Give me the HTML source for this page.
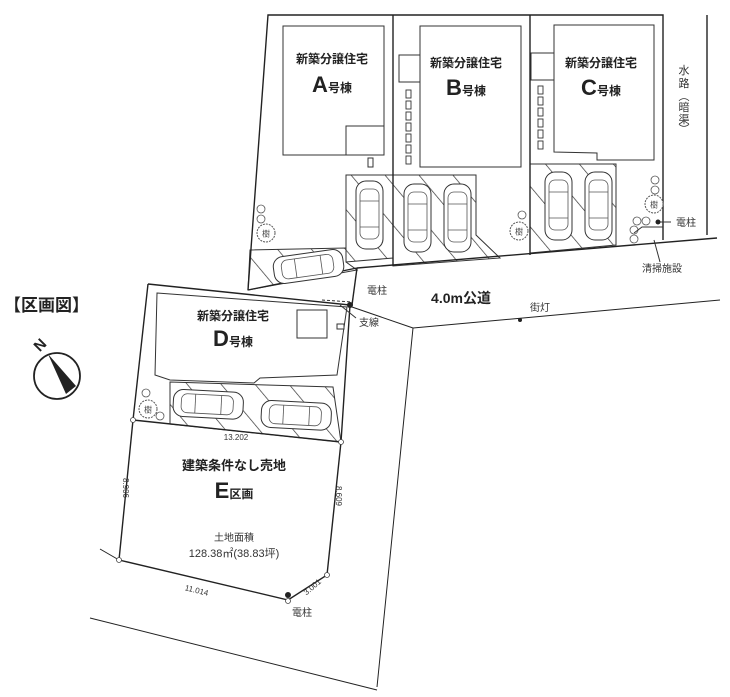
<!DOCTYPE html>
<html><head><meta charset="utf-8"><style>
html,body{margin:0;padding:0;background:#fff;}
svg{display:block;font-family:"Liberation Sans","Noto Sans CJK JP",sans-serif;}
</style></head><body>
<svg width="730" height="697" viewBox="0 0 730 697" xmlns="http://www.w3.org/2000/svg">
<defs>
<pattern id="h" width="26" height="26" patternUnits="userSpaceOnUse" patternTransform="rotate(-40)">
<line x1="0" y1="0" x2="0" y2="26" stroke="#333" stroke-width="1.4"/>
</pattern>
<g id="carv">
<rect x="0" y="0" width="27" height="68" rx="10" fill="#fff" stroke="#333" stroke-width="1"/>
<rect x="4" y="8" width="19" height="50" rx="6" fill="none" stroke="#555" stroke-width="0.8"/>
<line x1="4" y1="20" x2="23" y2="20" stroke="#555" stroke-width="0.8"/>
<line x1="4" y1="46" x2="23" y2="46" stroke="#555" stroke-width="0.8"/>
</g>
<g id="carh">
<rect x="0" y="0" width="70" height="27" rx="10" fill="#fff" stroke="#333" stroke-width="1"/>
<rect x="8" y="4" width="52" height="19" rx="6" fill="none" stroke="#555" stroke-width="0.8"/>
<line x1="22" y1="4" x2="22" y2="23" stroke="#555" stroke-width="0.8"/>
<line x1="48" y1="4" x2="48" y2="23" stroke="#555" stroke-width="0.8"/>
</g>
<g id="tree"><circle r="9" fill="#fff" stroke="#555" stroke-width="1" stroke-dasharray="2 1"/><text y="3.5" font-size="8" text-anchor="middle" fill="#444">樹</text></g>
<g id="sm"><circle r="4" fill="#fff" stroke="#555" stroke-width="0.8"/></g>
</defs>

<g stroke="#333" stroke-width="1">
<polygon points="346,175 393,175 393,258 346,262" fill="url(#h)"/>
<polygon points="393,175 476,175 476,235 500,258 393,266" fill="url(#h)"/>
<polygon points="530,164 616,164 616,245 530,253" fill="url(#h)"/>
<polygon points="250,250 346,248 346,262 357,270 248,290" fill="url(#h)"/>
<polygon points="170,382 333,387 341,442 170,424" fill="url(#h)"/>
</g>

<g fill="none" stroke="#222" stroke-width="1.4">
<polyline points="248,290 268,15 663,15 663,240"/>
<line x1="393" y1="15" x2="393" y2="266"/>
<line x1="530" y1="15" x2="530" y2="255"/>
<line x1="248" y1="290" x2="357" y2="268"/>
<line x1="357" y1="268" x2="717" y2="238"/>
<line x1="707" y1="15" x2="707" y2="235"/>
<line x1="357" y1="268" x2="352" y2="305"/>
<polyline points="352,307 413,328 377,687" stroke-width="1"/>
<line x1="413" y1="328" x2="720" y2="300" stroke-width="1"/>
<line x1="90" y1="618" x2="377" y2="690" stroke-width="1"/>
<line x1="100" y1="549" x2="119" y2="560" stroke-width="1"/>
<polyline points="148,284 350,305 341,442 327,575 288,600 119,560 133,420 148,284"/>
<line x1="133" y1="420" x2="341" y2="442"/>
</g>

<g fill="#fff" stroke="#333" stroke-width="1">
<rect x="283" y="26" width="101" height="129"/>
<rect x="346" y="126" width="38" height="29"/>
<rect x="368" y="158" width="5" height="9"/>
<rect x="420" y="26" width="101" height="141"/>
<rect x="399" y="55" width="21" height="27"/>
<polygon points="554,25 654,25 654,160 597,160 597,153 554,152"/>
<rect x="531" y="53" width="23" height="27"/>
<polygon points="157,293 347,307 337,375 260,378 254,383 170,380 155,375"/>
<rect x="297" y="310" width="30" height="28"/>
<rect x="337" y="324" width="7" height="5"/>
</g>
<g fill="#fff" stroke="#333" stroke-width="0.9">
<rect x="406" y="90" width="5" height="8"/><rect x="406" y="101" width="5" height="8"/><rect x="406" y="112" width="5" height="8"/><rect x="406" y="123" width="5" height="8"/><rect x="406" y="134" width="5" height="8"/><rect x="406" y="145" width="5" height="8"/><rect x="406" y="156" width="5" height="8"/>
<rect x="538" y="86" width="5" height="8"/><rect x="538" y="97" width="5" height="8"/><rect x="538" y="108" width="5" height="8"/><rect x="538" y="119" width="5" height="8"/><rect x="538" y="130" width="5" height="8"/><rect x="538" y="141" width="5" height="8"/>
</g>

<use href="#carv" x="356" y="181"/>
<use href="#carv" x="404" y="184"/>
<use href="#carv" x="444" y="184"/>
<use href="#carv" x="545" y="172"/>
<use href="#carv" x="585" y="172"/>
<use href="#carh" transform="translate(272,258) rotate(-8)"/>
<use href="#carh" transform="translate(174,389) rotate(3)"/>
<use href="#carh" transform="translate(262,400) rotate(3)"/>

<use href="#tree" x="266" y="233"/><use href="#sm" x="261" y="209"/><use href="#sm" x="261" y="219"/>
<use href="#tree" x="519" y="231"/><use href="#sm" x="522" y="215"/>
<use href="#tree" x="654" y="204"/><use href="#sm" x="655" y="180"/><use href="#sm" x="655" y="190"/>
<use href="#sm" x="637" y="221"/><use href="#sm" x="646" y="221"/><use href="#sm" x="634" y="230"/><use href="#sm" x="634" y="239"/>
<use href="#tree" x="148" y="409"/><use href="#sm" x="146" y="393"/><use href="#sm" x="160" y="416"/>

<g fill="none" stroke="#333" stroke-width="1">
<polyline points="634,233 642,227 663,227"/>
<line x1="660" y1="222" x2="671" y2="222"/>
<line x1="654" y1="240" x2="660" y2="262"/>
<line x1="322" y1="300" x2="352" y2="302" stroke-dasharray="3 2"/>
<line x1="340" y1="305" x2="356" y2="318"/>
</g>
<g fill="#222">
<circle cx="658" cy="222" r="2.5"/>
<circle cx="350" cy="305" r="3"/>
<circle cx="288" cy="595" r="3"/>
<circle cx="520" cy="320" r="2"/>
</g>
<g fill="#fff" stroke="#444" stroke-width="0.8">
<circle cx="133" cy="420" r="2.5"/><circle cx="341" cy="442" r="2.5"/><circle cx="119" cy="560" r="2.5"/><circle cx="327" cy="575" r="2.5"/><circle cx="288" cy="601" r="2.5"/>
</g>

<g fill="#222" font-weight="bold" text-anchor="middle">
<text x="332" y="63" font-size="12">新築分譲住宅</text>
<text x="332" y="92"><tspan font-size="22">A</tspan><tspan font-size="12">号棟</tspan></text>
<text x="466" y="67" font-size="12">新築分譲住宅</text>
<text x="466" y="95"><tspan font-size="22">B</tspan><tspan font-size="12">号棟</tspan></text>
<text x="601" y="67" font-size="12">新築分譲住宅</text>
<text x="601" y="95"><tspan font-size="22">C</tspan><tspan font-size="12">号棟</tspan></text>
<text x="233" y="320" font-size="12">新築分譲住宅</text>
<text x="233" y="346"><tspan font-size="22">D</tspan><tspan font-size="12">号棟</tspan></text>
<text x="234" y="470" font-size="13">建築条件なし売地</text>
<text x="234" y="498"><tspan font-size="22">E</tspan><tspan font-size="12">区画</tspan></text>
<text x="461" y="303" font-size="14">4.0m公道</text>
</g>
<text x="4" y="311" font-size="17" font-weight="bold" fill="#222">【区画図】</text>
<g fill="#333" font-size="10" text-anchor="middle">
<text x="234" y="541">土地面積</text>
<text x="234" y="557" font-size="11">128.38㎡(38.83坪)</text>
<text x="686" y="226">電柱</text>
<text x="662" y="272">清掃施設</text>
<text x="377" y="294">電柱</text>
<text x="369" y="326">支線</text>
<text x="540" y="311">街灯</text>
<text x="302" y="616">電柱</text>
<text x="236" y="440" font-size="8">13.202</text>
<text x="196" y="593" font-size="8" transform="rotate(14 196 593)">11.014</text>
<text x="314" y="589" font-size="8" transform="rotate(-40 314 589)">3.001</text>
<text x="123" y="488" font-size="8" transform="rotate(90 123 488)">8.906</text>
<text x="336" y="496" font-size="8" transform="rotate(90 336 496)">8.609</text>
<g font-size="11"><text x="684" y="74">水</text><text x="684" y="87">路</text><text x="684" y="100">︵</text><text x="684" y="111">暗</text><text x="684" y="123">渠</text><text x="684" y="133">︶</text></g>
</g>

<circle cx="57" cy="376" r="23" fill="#fff" stroke="#222" stroke-width="1.8"/>
<polygon points="48,354 76,386 66,394" fill="#222"/>
<text x="40" y="350" font-size="15" font-weight="bold" fill="#222" text-anchor="middle" transform="rotate(-45 40 345)">N</text>
</svg>
</body></html>
